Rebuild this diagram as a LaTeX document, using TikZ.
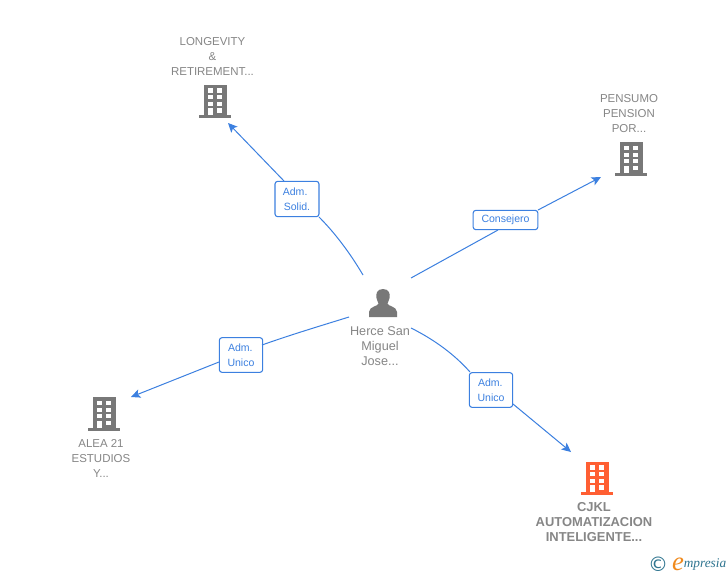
\documentclass[tikz,border=0pt]{standalone}
\usepackage{fontspec}
\setmainfont{Liberation Sans}
\newfontfamily\logofont[Ligatures=TeX]{DejaVu Sans}
\newfontfamily\logoserif{Liberation Serif}
\usetikzlibrary{arrows.meta}
\definecolor{linkblue}{HTML}{3C80E0}
\definecolor{labelgrey}{HTML}{868686}
\definecolor{icongrey}{HTML}{787878}
\definecolor{hot}{HTML}{FF5F33}
\definecolor{logoteal}{HTML}{2F7590}
\definecolor{logoorange}{HTML}{F08A1D}
\tikzset{
  x=0.75pt,y=-0.75pt,
  link/.style={draw=linkblue,line width=0.75pt},
  arrowlink/.style={link,-{Stealth[length=7pt,width=6.5pt,inset=1.6pt]}},
  rolebox/.style={draw=linkblue,fill=white,rounded corners=2pt,line width=0.8pt,inner sep=0pt,
    text=linkblue,font=\fontsize{7.9pt}{11.3pt}\selectfont,align=center},
  caption/.style={text=labelgrey,font=\fontsize{8.6pt}{11.2pt}\selectfont,align=center,inner sep=0pt},
  hubcaption/.style={text=labelgrey,font=\fontsize{9.5pt}{11.2pt}\selectfont,align=center,inner sep=0pt},
  hotcaption/.style={text=labelgrey,font=\fontsize{9.7pt}{11.2pt}\selectfont\bfseries,align=center,inner sep=0pt},
  pics/building/.style={code={
    \fill[#1] (-11,-33.5) rectangle (11.7,-3);
    \fill[#1] (-16,-3) rectangle (16,0);
    \foreach \yy in {-29.7,-23,-16.5}{
      \fill[white] (-7.3,\yy) rectangle (-2.5,\yy+4.3);
      \fill[white] (2.3,\yy) rectangle (7.3,\yy+4.3);
    }
    \fill[white] (-7.3,-10) rectangle (-2.5,-3);
    \fill[white] (2.3,-10) rectangle (7.3,-5.2);
  }},
  pics/person/.style={code={
    \fill[#1] (0,-28) .. controls (-6,-28) and (-7.5,-23) .. (-6.5,-19)
      .. controls (-6,-16.5) and (-5,-15) .. (-4.5,-13.5)
      .. controls (-5,-10.5) and (-13.5,-11) .. (-14,-5) -- (-14,0) -- (14,0) -- (14,-5)
      .. controls (13.5,-11) and (5,-10.5) .. (4.5,-13.5)
      .. controls (5,-15) and (6,-16.5) .. (6.5,-19)
      .. controls (7.5,-23) and (6,-28) .. (0,-28) -- cycle;
  }}
}
\begin{document}
\begin{tikzpicture}
\useasboundingbox (0,0) rectangle (728,575);
\fill[white] (0,0) rectangle (728,575);
% free ends of the connectors
\coordinate (hubA) at (363,275);
\coordinate (hubB) at (411,278);
\coordinate (hubC) at (349,317);
\coordinate (hubD) at (411,328);
\coordinate (tipA) at (228,123);
\coordinate (tipB) at (601,177);
\coordinate (tipC) at (131,397);
\coordinate (tipD) at (571,452);
% role labels
\node[rolebox,minimum width=33pt,minimum height=26.5pt] (roleA) at (297,199) {\hspace*{-0.8pt}Adm.\hspace*{2pt}\\Solid.};
\node[rolebox,minimum width=48.5pt,minimum height=14.5pt] (roleB) at (505.5,220) {Consejero};
\node[rolebox,minimum width=32.5pt,minimum height=26pt] (roleC) at (241,355) {Adm.\hspace*{1pt}\\Unico};
\node[rolebox,minimum width=32.5pt,minimum height=26pt] (roleD) at (491,390) {Adm.\hspace*{1pt}\\Unico};
% connectors
\draw[link] (hubA) .. controls (350,253) and (335,233) .. (319,217);
\draw[arrowlink] (284,181) -- (tipA);
\draw[link] (hubB) -- (498,230);
\draw[arrowlink] (538,210) -- (tipB);
\draw[link] (hubC) .. controls (320,326) and (290,335) .. (262,345);
\draw[arrowlink] (219,362) -- (tipC);
\draw[link] (hubD) .. controls (435,340) and (455,355) .. (470,372);
\draw[arrowlink] (513,404) -- (tipD);
% companies and person
\pic at (215,118) {building=icongrey};
\node[caption] (capA) at (212.5,56.5) {LONGEVITY\\\&\\RETIREMENT...};
\pic at (631,175.5) {building=icongrey};
\node[caption] (capB) at (629,113.5) {PENSUMO\\PENSION\\POR...};
\pic at (104,430.5) {building=icongrey};
\node[caption] (capC) at (101,458.5) {ALEA 21\\ESTUDIOS\\Y...};
\pic at (597,495) {building=hot};
\node[hotcaption] (capD) at (594,522) {CJKL\\AUTOMATIZACION\\INTELIGENTE...};
\pic at (383,317) {person=icongrey};
\node[hubcaption] (capP) at (380,346) {Herce San\\Miguel\\Jose...};
% logo
\node[inner sep=0pt,text=logoteal,font=\logofont\fontsize{15pt}{15pt}\selectfont] (logoC) at (658,564) {©};
\node[inner sep=0pt,text=logoorange,font=\logoserif\itshape\fontsize{20pt}{20pt}\selectfont] (logoE) at (678,564) {e};
\node[inner sep=0pt,anchor=west,text=logoteal,font=\logoserif\itshape\fontsize{10pt}{12pt}\selectfont] (logoT) at (683.5,564) {mpresia};
\end{tikzpicture}
\end{document}
